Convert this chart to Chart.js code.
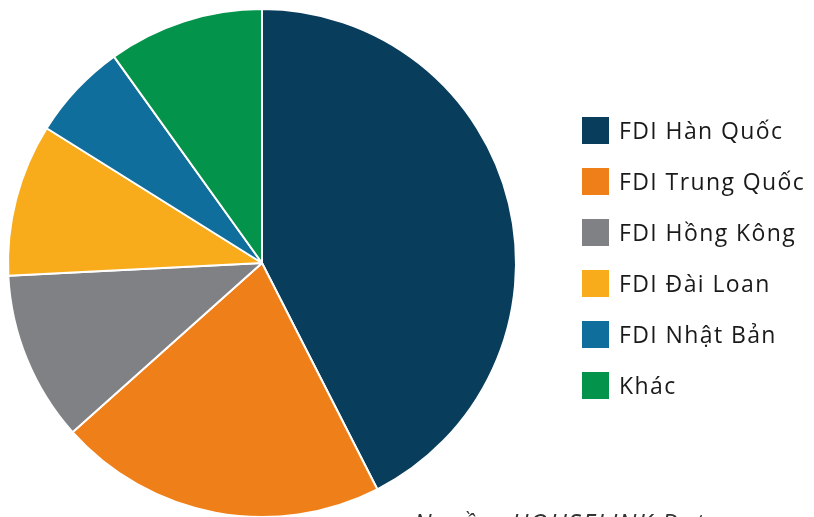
<!DOCTYPE html>
<html>
<head>
<meta charset="utf-8">
<script src="https://cdn.jsdelivr.net/npm/chart.js@4"></script>
<style>
  html, body { margin: 0; padding: 0; background: #fff; overflow: hidden; }
  #wrap { position: relative; width: 814px; height: 517px; overflow: hidden; }
  #box { position: absolute; left: 0; top: 0; width: 814px; height: 530px; }
  #legend { position: absolute; left: 582px; top: 117px; font-family: "Open Sans", sans-serif; font-size: 23px; letter-spacing: 1.4px; color: #1a1a1a; }
  .item { display: flex; align-items: center; height: 27px; margin-bottom: 24px; line-height: 27px; }
  .sw { width: 27px; height: 27px; margin-right: 10px; flex: none; }
  .item span { position: relative; top: 0px; }
  #source { position: absolute; left: 414px; top: 505px; font-family: "Open Sans", sans-serif; font-style: italic; font-size: 25px; letter-spacing: 1.6px; color: #333; white-space: nowrap; }
</style>
</head>
<body>
<div id="wrap">
  <div id="box"><canvas id="chart"></canvas></div>
  <div id="legend"></div>
  <div id="source">Nguồn: HOUSELINK Data</div>
</div>
<script>
// dữ liệu (tỷ trọng %)
const labels = ['FDI Hàn Quốc', 'FDI Trung Quốc', 'FDI Hồng Kông', 'FDI Đài Loan', 'FDI Nhật Bản', 'Khác'];
const values = [42.5, 20.9, 10.8, 9.7, 6.2, 9.9];
const colors = ['#093D5C', '#EF8019', '#808184', '#F8AC1C', '#0F6E9C', '#03934A'];

new Chart(document.getElementById('chart'), {
  type: 'pie',
  data: { labels, datasets: [{ data: values, backgroundColor: colors, borderColor: '#fff', borderWidth: 2 }] },
  options: {
    responsive: true,
    maintainAspectRatio: false,
    animation: false,
    layout: { padding: { left: 7, top: 8, right: 297, bottom: 12 } },
    plugins: { legend: { display: false }, tooltip: { enabled: false } },
  },
});

// legend HTML tự dựng
document.getElementById('legend').innerHTML = labels
  .map((l, i) => `<div class="item"><div class="sw" style="background:${colors[i]}"></div><span>${l}</span></div>`)
  .join('');
</script>
</body>
</html>
